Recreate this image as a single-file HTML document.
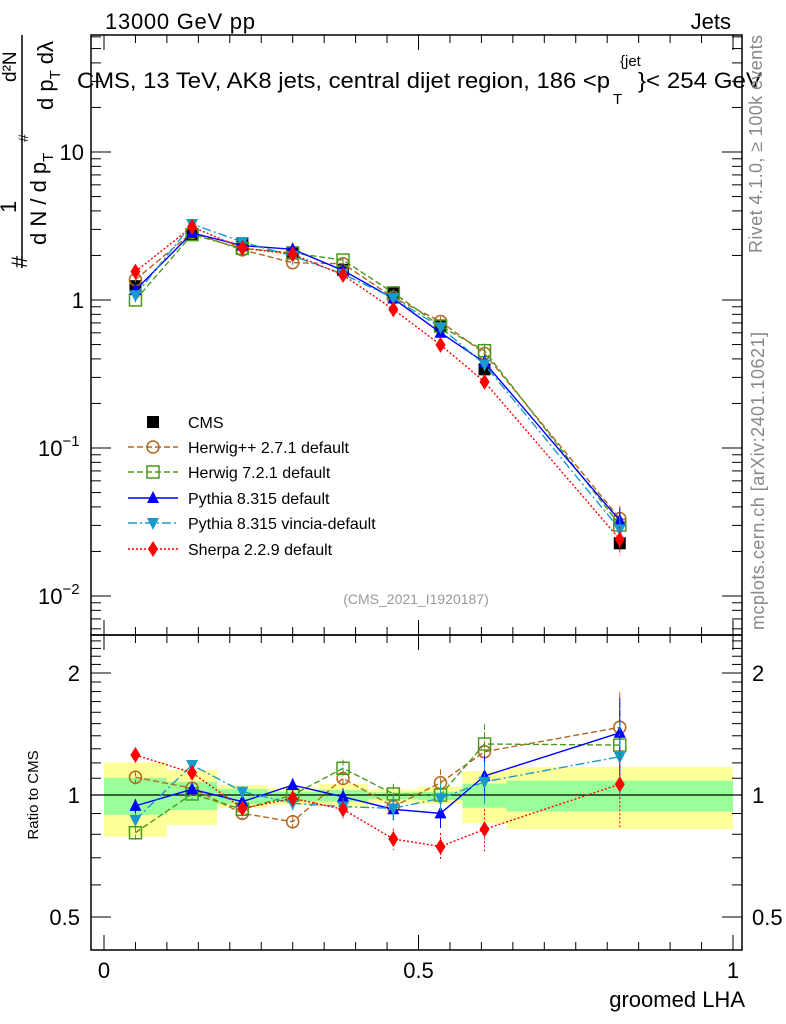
<!DOCTYPE html>
<html><head><meta charset="utf-8"><style>
html,body{margin:0;padding:0;background:#fff;}
svg{display:block;font-family:"Liberation Sans",sans-serif;}
</style></head><body>
<svg id="c" width="786" height="1024" viewBox="0 0 786 1024" xmlns="http://www.w3.org/2000/svg">
<g id="bands"></g>
<g id="axes"></g>
<g id="series"></g>
<text x="105" y="29" font-size="22" textLength="150">13000 GeV pp</text>
<text x="731" y="29" font-size="22" text-anchor="end">Jets</text>
<g font-size="22">
 <text x="77" y="88" textLength="533" lengthAdjust="spacingAndGlyphs">CMS, 13 TeV, AK8 jets, central dijet region, 186 &lt;p</text>
 <text x="620" y="66" font-size="15">{jet</text>
 <text x="613" y="104" font-size="15">T</text>
 <text x="638" y="88" textLength="124" lengthAdjust="spacingAndGlyphs">}&lt; 254 GeV</text>
</g>
<text transform="translate(762,253) rotate(-90)" font-size="18" textLength="218" fill="#888">Rivet 4.1.0, ≥ 100k events</text>
<text transform="translate(764,630) rotate(-90)" font-size="18" textLength="298" fill="#888">mcplots.cern.ch [arXiv:2401.10621]</text>
<text x="416" y="604" font-size="14" fill="#999" text-anchor="middle">(CMS_2021_I1920187)</text>
<g font-size="22">
 <text transform="translate(27,268) rotate(-90)">#</text>
 <text transform="translate(16,213) rotate(-90)">1</text>
 <text transform="translate(16,82) rotate(-90)" font-size="19">d²N</text>
 <line x1="22" y1="35" x2="22" y2="268" stroke="#000" stroke-width="1.5"/>
 <text transform="translate(46,245) rotate(-90)">d N / d p<tspan font-size="15" dy="7">T</tspan></text>
 <text transform="translate(28,142) rotate(-90)" font-size="14">#</text>
 <text transform="translate(53,110) rotate(-90)">d p<tspan font-size="15" dy="7">T</tspan><tspan dy="-7" dx="6">dλ</tspan></text>
</g>
<text transform="translate(38,795) rotate(-90)" font-size="15" text-anchor="middle">Ratio to CMS</text>
<text x="745" y="1007" font-size="22" text-anchor="end">groomed LHA</text>
<g id="legend"></g>
</svg>
<script>
// ---- data ----
const binEdges=[0,0.1,0.18,0.26,0.34,0.42,0.5,0.57,0.64,1.0];
const binCenters=[0.05,0.14,0.22,0.30,0.38,0.46,0.535,0.605,0.82];
const cmsValues=[1.24,2.75,2.42,2.08,1.6,1.11,0.667,0.34,0.0227];
const cmsErrRel=[0.04,0.03,0.03,0.03,0.03,0.03,0.04,0.06,0.1];
const bandYellowUp=[1.204,1.153,1.058,1.039,1.064,1.033,1.048,1.145,1.172];
const bandYellowDn=[0.789,0.843,0.929,0.945,0.936,0.957,0.95,0.851,0.824];
const bandGreenUp=[1.103,1.078,1.035,1.019,1.029,1.015,1.019,1.066,1.085];
const bandGreenDn=[0.893,0.918,0.95,0.963,0.963,0.976,0.972,0.93,0.91];
const herwigppRatio=[1.106,1.039,0.901,0.859,1.099,0.936,1.072,1.279,1.469];
const herwig7Ratio=[0.807,1.006,0.922,1.0,1.164,1.006,1.0,1.336,1.328];
const pythiaRatio=[0.94,1.033,0.963,1.058,0.99,0.922,0.901,1.114,1.424];
const vinciaRatio=[0.868,1.186,1.019,0.954,0.936,0.927,0.981,1.078,1.243];
const sherpaRatio=[1.255,1.135,0.927,0.981,0.922,0.779,0.746,0.823,1.063];
const modelErrRel=[0.04,0.03,0.03,0.04,0.05,0.06,0.08,0.12,0.22];
const mainTicks=[0.01,0.1,1,10];
const mainTickLabels=["10","10","1","10"];
const mainTickExps=["−2","−1","",""];
const ratioTicks=[0.5,1,2];
const ratioTickLabels=["0.5","1","2"];
const xTicks=[0,0.5,1];
const xTickLabels=["0","0.5","1"];
// ---- geometry ----
const L=91,R=742,T=35,MID=635,B=950;
const X=v=>104+629*v;
const YM=v=>300-148*Math.log10(v);
const YR=v=>795-122*Math.log2(v);
const NS="http://www.w3.org/2000/svg";
function mk(tag,parent,attrs){const e=document.createElementNS(NS,tag);for(const k in attrs)e.setAttribute(k,attrs[k]);parent.appendChild(e);return e;}
const axes=document.getElementById('axes'),bands=document.getElementById('bands'),ser=document.getElementById('series'),leg=document.getElementById('legend');
// bands
for(let i=0;i<binCenters.length;i++){
 const x1=X(binEdges[i]),x2=X(binEdges[i+1]);
 let r=mk('rect',bands,{x:x1,y:YR(bandYellowUp[i]),width:x2-x1,height:YR(bandYellowDn[i])-YR(bandYellowUp[i]),fill:'#ffff99'});
 
 
 r=mk('rect',bands,{x:x1,y:YR(bandGreenUp[i]),width:x2-x1,height:YR(bandGreenDn[i])-YR(bandGreenUp[i]),fill:'#99ff99'});
 
 
}
// frames
let f=mk('rect',axes,{x:L,y:T,width:R-L,height:MID-T,fill:'none',stroke:'#000','stroke-width':1.5});


f=mk('rect',axes,{x:L,y:MID,width:R-L,height:B-MID,fill:'none',stroke:'#000','stroke-width':1.5});


mk('line',axes,{x1:L,x2:R,y1:YR(1),y2:YR(1),stroke:'#000','stroke-width':1.3});
// x ticks
for(let k=0;k<=20;k++){const v=k*0.05;const maj=(k%10===0);const len=maj?15:8;const x=X(v);
 [T,MID].forEach(y0=>mk('line',axes,{x1:x,x2:x,y1:y0,y2:y0+len,stroke:'#000'}));
 [MID,B].forEach(y0=>mk('line',axes,{x1:x,x2:x,y1:y0,y2:y0-len,stroke:'#000'}));}
xTicks.forEach((v,i)=>{const t=mk('text',axes,{x:X(v),y:978,'font-size':22,'text-anchor':'middle'});t.textContent=xTickLabels[i];
 
 });
// main y ticks
for(let d=-3;d<=1;d++)for(let m=1;m<=9;m++){const v=m*Math.pow(10,d);const y=YM(v);if(y<T||y>MID)continue;const len=m===1?20:10;
 mk('line',axes,{x1:L,x2:L+len,y1:y,y2:y,stroke:'#000'});mk('line',axes,{x1:R,x2:R-len,y1:y,y2:y,stroke:'#000'});}
mainTicks.forEach((v,i)=>{const y=YM(v)+8;
 const g=mk('text',axes,{x:mainTickExps[i]?38:84,y:y,'font-size':22,'text-anchor':mainTickExps[i]?'start':'end'});g.textContent=mainTickLabels[i];
 if(mainTickExps[i]){const s=mk('tspan',g,{'font-size':15,dy:-10});s.textContent=mainTickExps[i];}
 
 });
// ratio y ticks
for(let k=5;k<=24;k++){const v=k/10;const y=YR(v);if(y<MID)continue;const maj=(v===0.5||v===1||v===2);const len=maj?20:10;
 mk('line',axes,{x1:L,x2:L+len,y1:y,y2:y,stroke:'#000'});mk('line',axes,{x1:R,x2:R-len,y1:y,y2:y,stroke:'#000'});}
ratioTicks.forEach((v,i)=>{const y=YR(v)+8;
 let t=mk('text',axes,{x:80,y:y,'font-size':22,'text-anchor':'end'});t.textContent=ratioTickLabels[i];
 
 
 t=mk('text',axes,{x:752,y:y,'font-size':22});t.textContent=ratioTickLabels[i];
 
 });
// markers
function marker(p,shape,color,x,y){const s=6;
 if(shape==='sq')return mk('rect',p,{x:x-s,y:y-s,width:2*s,height:2*s,fill:'#000'});
 if(shape==='osq')return mk('rect',p,{x:x-s,y:y-s,width:2*s,height:2*s,fill:'none',stroke:color,'stroke-width':1.5});
 if(shape==='oc')return mk('circle',p,{cx:x,cy:y,r:s,fill:'none',stroke:color,'stroke-width':1.5});
 if(shape==='tu')return mk('polygon',p,{points:`${x},${y-7} ${x-6},${y+5} ${x+6},${y+5}`,fill:color});
 if(shape==='td')return mk('polygon',p,{points:`${x},${y+7} ${x-6},${y-5} ${x+6},${y-5}`,fill:color});
 if(shape==='di')return mk('polygon',p,{points:`${x},${y-8} ${x-5},${y} ${x},${y+8} ${x+5},${y}`,fill:color});}
const models=[
 {name:'herwigpp',label:'Herwig++ 2.7.1 default',r:herwigppRatio,c:'#b5651d',d:'6,3',m:'oc'},
 {name:'herwig7',label:'Herwig 7.2.1 default',r:herwig7Ratio,c:'#4a9a1a',d:'6,3',m:'osq'},
 {name:'pythia',label:'Pythia 8.315 default',r:pythiaRatio,c:'#0000ff',d:'',m:'tu'},
 {name:'vincia',label:'Pythia 8.315 vincia-default',r:vinciaRatio,c:'#1a9acb',d:'9,3,2,3',m:'td'},
 {name:'sherpa',label:'Sherpa 2.2.9 default',r:sherpaRatio,c:'#ff0000',d:'2,2',m:'di'}];
// CMS main
const cg=mk('g',ser,{});


cmsValues.forEach((v,i)=>{const x=X(binCenters[i]);mk('line',cg,{x1:x,x2:x,y1:YM(v*(1+cmsErrRel[i])),y2:YM(v*(1-cmsErrRel[i])),stroke:'#000'});
 const m=marker(cg,'sq','#000',x,YM(v));
 
 });
models.forEach(md=>{
 const g=mk('g',ser,{});
 
 
 const mainPts=md.r.map((r,i)=>[X(binCenters[i]),YM(r*cmsValues[i])]);
 const ratPts=md.r.map((r,i)=>[X(binCenters[i]),YR(r)]);
 [mainPts,ratPts].forEach(pts=>mk('polyline',g,{points:pts.map(p=>p.join(',')).join(' '),fill:'none',stroke:md.c,'stroke-width':1.4,'stroke-dasharray':md.d}));
 md.r.forEach((r,i)=>{const x=X(binCenters[i]);const e=modelErrRel[i];
  mk('line',g,{x1:x,x2:x,y1:YM(r*cmsValues[i]*(1+e)),y2:YM(r*cmsValues[i]*(1-e)),stroke:md.c,'stroke-dasharray':md.d});
  mk('line',g,{x1:x,x2:x,y1:YR(r*(1+e)),y2:YR(r*(1-e)),stroke:md.c,'stroke-dasharray':md.d});
  let m=marker(g,md.m,md.c,x,YM(r*cmsValues[i]));
  
  
  m=marker(g,md.m,md.c,x,YR(r));
  
  });
});
// legend
const ly=[422,447,472,498,523,549];
let le=mk('g',leg,{});


marker(le,'sq','#000',153,ly[0]);
let lt=mk('text',le,{x:188,y:ly[0]+6,'font-size':16});lt.textContent='CMS';
models.forEach((md,i)=>{const y=ly[i+1];const e=mk('g',leg,{});
 
 
 mk('line',e,{x1:128,x2:178,y1:y,y2:y,stroke:md.c,'stroke-width':1.4,'stroke-dasharray':md.d});
 marker(e,md.m,md.c,153,y);
 const t=mk('text',e,{x:188,y:y+6,'font-size':16});t.textContent=md.label;});
</script>
</body></html>
